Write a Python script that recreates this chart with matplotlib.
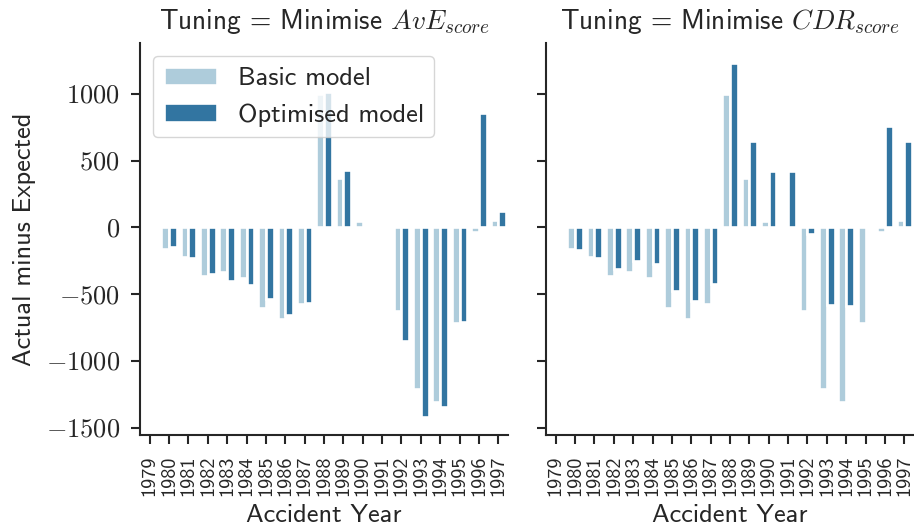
import numpy as np
import matplotlib
matplotlib.use('Agg')
import matplotlib.pyplot as plt
from matplotlib.ticker import FuncFormatter

plt.rcParams['font.family'] = 'cmss10'
plt.rcParams['mathtext.fontset'] = 'cm'
plt.rcParams['axes.linewidth'] = 1.5
plt.rcParams['axes.edgecolor'] = '#262626'
plt.rcParams['text.color'] = '#262626'
plt.rcParams['axes.labelcolor'] = '#262626'
plt.rcParams['xtick.color'] = '#262626'
plt.rcParams['ytick.color'] = '#262626'

years = [str(y) for y in range(1979, 1998)]

basic = [0, -165, -225, -367, -337, -382, -606, -689, -576, 995, 370, 48, 0,
         -625, -1207, -1307, -719, -32, 55]
opt_ave = [0, -150, -228, -352, -405, -432, -539, -654, -569, 1015, 427, 0, 0,
           -850, -1420, -1342, -706, 855, 125]
opt_cdr = [0, -170, -230, -312, -250, -275, -477, -552, -427, 1232, 649, 419, 424,
           -50, -582, -590, 0, 760, 645]

panels = [('Tuning = Minimise $AvE_{score}$', opt_ave),
          ('Tuning = Minimise $CDR_{score}$', opt_cdr)]

c_basic = '#aeccdb'
c_opt = '#3275a1'

W, H = 914, 532
fig = plt.figure(figsize=(W / 100, H / 100), dpi=100)
ax1 = fig.add_axes([140 / W, (H - 435) / H, 368 / W, 392 / H])
ax2 = fig.add_axes([546 / W, (H - 435) / H, 368 / W, 392 / H], sharey=ax1)

x = np.arange(len(years))
bw = 0.4
for ax, (title, opt) in zip([ax1, ax2], panels):
    ax.bar(x - bw / 2, basic, width=bw, color=c_basic, edgecolor='white',
           linewidth=1.9, label='Basic model')
    ax.bar(x + bw / 2, opt, width=bw, color=c_opt, edgecolor='white',
           linewidth=1.9, label='Optimised model')
    ax.set_xticks(x)
    ax.set_xticklabels(years, rotation=90, fontsize=14.5)
    ax.set_xlim(-0.5, len(years) - 0.5)
    ax.set_xlabel('Accident Year', fontsize=19, labelpad=6)
    ax.set_title(title, fontsize=19.7, pad=10)
    ax.spines['top'].set_visible(False)
    ax.spines['right'].set_visible(False)
    ax.tick_params(length=6.5, width=1.5, pad=8)

ax1.set_ylim(-1555, 1380)
ax1.set_yticks([-1500, -1000, -500, 0, 500, 1000])
ax1.yaxis.set_major_formatter(FuncFormatter(lambda v, p: r'$%d$' % v))
ax1.tick_params(axis='y', labelsize=19)
ax1.set_ylabel('Actual minus Expected', fontsize=19, labelpad=7)
ax2.tick_params(axis='y', labelleft=False)

leg = ax1.legend(loc='upper left', fontsize=19, handlelength=2.0,
                 framealpha=0.8, edgecolor='0.8')

fig.savefig('out.png', dpi=100)
